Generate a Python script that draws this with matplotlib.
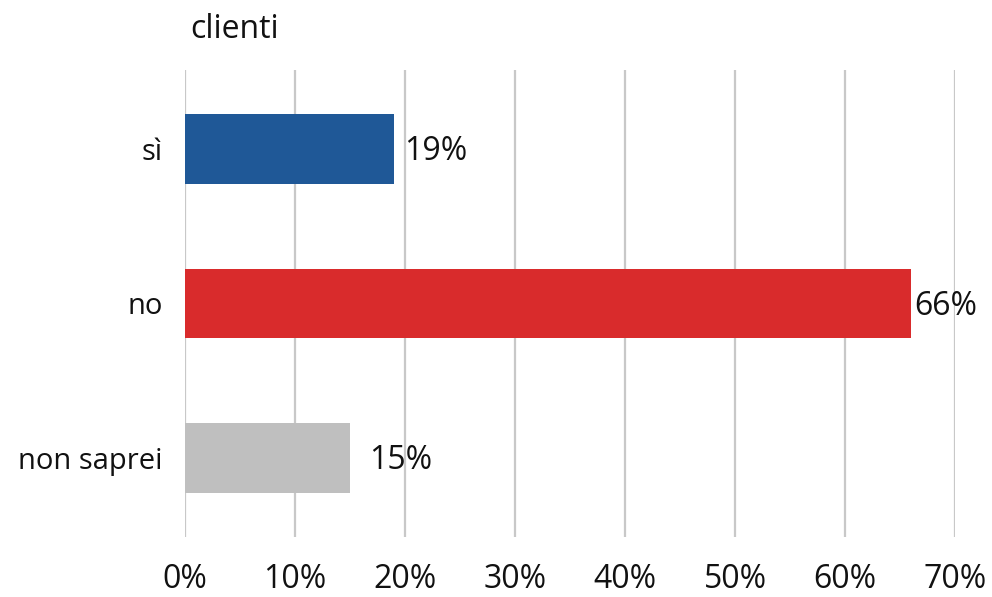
import matplotlib.pyplot as plt
from matplotlib.ticker import PercentFormatter

# dati del grafico
categorie = ["sì", "no", "non saprei"]
valori = [0.19, 0.66, 0.15]
colori = ["#1F5897", "#D92B2C", "#BFBFBF"]
etichette = ["19%", "66%", "15%"]
scostamenti = [7, 2, 14]  # distanza etichetta-barra in punti
tick_x = [0, 0.1, 0.2, 0.3, 0.4, 0.5, 0.6, 0.7]

plt.rcParams['font.family'] = ['Open Sans', 'DejaVu Sans']

fig = plt.figure(figsize=(9.92, 5.97), dpi=100)
W, H = 992, 597
ax = fig.add_axes([185 / W, 1 - 537 / H, (955 - 185) / W, (537 - 70) / H])

y = list(range(len(categorie)))
ax.barh(y, valori, height=0.45, color=colori, zorder=2)

for i, (v, t, dx) in enumerate(zip(valori, etichette, scostamenti)):
    ax.annotate(t, (v, i), xytext=(dx, -2), textcoords="offset points",
                va="center", ha="left", fontsize=23, color="#111111")

ax.set_xlim(0, 0.7)
ax.set_ylim(2.51, -0.51)
ax.set_xticks(tick_x)
ax.xaxis.set_major_formatter(PercentFormatter(1.0, decimals=0))
ax.set_yticks(y)
ax.set_yticklabels(categorie, va="center_baseline")

ax.grid(axis="x", color="#C8C8C8", linewidth=1.6, zorder=0)
ax.tick_params(axis="x", length=0, pad=19, labelsize=23, labelcolor="#111111")
ax.tick_params(axis="y", length=0, pad=16, labelsize=21, labelcolor="#111111")
for s in ax.spines.values():
    s.set_visible(False)

fig.text(190 / W, 1 - 30 / H, "clienti", fontsize=23, va="center", ha="left",
         color="#111111")

fig.savefig("out.png", dpi=100)
